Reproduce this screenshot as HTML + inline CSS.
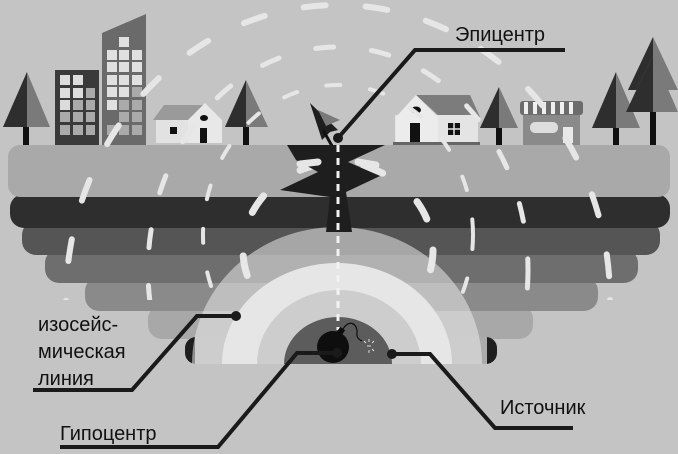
<!DOCTYPE html>
<html><head><meta charset="utf-8"><style>
html,body{margin:0;padding:0;background:#c4c4c4;width:678px;height:454px;overflow:hidden;}
svg{display:block}
text{font-family:"Liberation Sans",sans-serif;fill:#111;}
</style></head><body>
<svg width="678" height="454" viewBox="0 0 678 454" xmlns="http://www.w3.org/2000/svg">
<rect width="678" height="454" fill="#c4c4c4"/>
<defs><clipPath id="up"><rect x="0" y="0" width="678" height="300"/></clipPath></defs>

<!-- buildings -->
<polygon points="3,127 27,72 50,127" fill="#7a7a7a"/><polygon points="3,127 27,72 27,127" fill="#2e2e2e"/><rect x="23" y="127" width="6" height="18" fill="#111"/>
<rect x="55" y="70" width="44" height="75" fill="#3a3a3a"/>
<g fill="#dcdcdc"><rect x="60" y="75" width="10" height="10"/><rect x="73" y="75" width="10" height="10"/>
<rect x="60" y="88" width="10" height="10"/><rect x="73" y="88" width="10" height="10"/><rect x="86" y="88" width="9" height="10" fill="#aaa"/>
<rect x="60" y="100" width="10" height="10"/><rect x="73" y="100" width="10" height="10" fill="#aaa"/><rect x="86" y="100" width="9" height="10" fill="#aaa"/>
<rect x="60" y="112" width="10" height="10" fill="#aaa"/><rect x="73" y="112" width="10" height="10" fill="#aaa"/><rect x="86" y="112" width="9" height="10" fill="#aaa"/>
<rect x="60" y="125" width="10" height="10" fill="#aaa"/><rect x="73" y="125" width="10" height="10" fill="#aaa"/><rect x="86" y="125" width="9" height="10" fill="#aaa"/></g>
<polygon points="102,33 146,14 146,145 102,145" fill="#6a6a6a"/>
<g fill="#e0e0e0"><rect x="119" y="37" width="10" height="10"/>
<rect x="107" y="50" width="10" height="10"/><rect x="119" y="50" width="10" height="10"/><rect x="132" y="50" width="10" height="10"/>
<rect x="107" y="62" width="10" height="10"/><rect x="119" y="62" width="10" height="10"/><rect x="132" y="62" width="10" height="10"/>
<rect x="107" y="75" width="10" height="10"/><rect x="119" y="75" width="10" height="10"/><rect x="132" y="75" width="10" height="10"/>
<rect x="107" y="87" width="10" height="10"/><rect x="119" y="87" width="10" height="10"/><rect x="132" y="87" width="10" height="10" fill="#aaa"/>
<rect x="107" y="100" width="10" height="10"/><rect x="119" y="100" width="10" height="10" fill="#aaa"/><rect x="132" y="100" width="10" height="10" fill="#aaa"/>
<rect x="119" y="112" width="10" height="10" fill="#aaa"/><rect x="132" y="112" width="10" height="10" fill="#aaa"/>
<rect x="107" y="125" width="10" height="10" fill="#aaa"/><rect x="119" y="125" width="10" height="10" fill="#aaa"/><rect x="132" y="125" width="10" height="10" fill="#aaa"/></g>
<!-- house1 -->
<polygon points="153,120 164,105 205,105 205,120" fill="#9a9a9a"/>
<rect x="156" y="120" width="32" height="23" fill="#e2e2e2"/>
<polygon points="188,120 205,103 222,120 222,143 188,143" fill="#e8e8e8"/>
<rect x="170" y="127" width="7" height="7" fill="#111"/><rect x="200" y="128" width="7" height="15" fill="#111"/><ellipse cx="204" cy="118" rx="4" ry="3" fill="#111"/>
<polygon points="225,127 246,80 268,127" fill="#7a7a7a"/><polygon points="225,127 246,80 246,127" fill="#2e2e2e"/><rect x="243" y="127" width="6" height="18" fill="#111"/>
<!-- house2 -->
<polygon points="416,95 470,95 480,117 440,117" fill="#7c7c7c"/>
<rect x="395" y="115" width="83" height="28" fill="#e4e4e4"/>
<polygon points="396,117 416,95 438,117 438,143 396,143" fill="#ececec"/>
<rect x="410" y="123" width="10" height="20" fill="#111"/><ellipse cx="416" cy="110" rx="5" ry="3.5" fill="#111"/>
<rect x="448" y="123" width="12" height="12" fill="#111"/><path d="M454 123v12M448 129h12" stroke="#e4e4e4" stroke-width="1.5"/>
<rect x="393" y="142" width="87" height="3" fill="#666"/>
<polygon points="480,128 499,87 518,128" fill="#7a7a7a"/><polygon points="480,128 499,87 499,128" fill="#2e2e2e"/><rect x="496" y="128" width="6" height="17" fill="#111"/>
<!-- shop -->
<rect x="523" y="113" width="57" height="32" fill="#8a8a8a"/>
<rect x="520" y="101" width="63" height="14" rx="3" fill="#6c6c6c"/>
<g fill="#efefef"><rect x="524" y="102" width="4" height="12"/><rect x="533" y="102" width="4" height="12"/><rect x="542" y="102" width="4" height="12"/><rect x="551" y="102" width="4" height="12"/><rect x="560" y="102" width="4" height="12"/><rect x="569" y="102" width="4" height="12"/></g>
<rect x="530" y="122" width="28" height="11" rx="5" fill="#ddd"/><rect x="563" y="127" width="10" height="16" fill="#e8e8e8"/>
<polygon points="592,128 616,72 640,128" fill="#7a7a7a"/><polygon points="592,128 616,72 616,128" fill="#2e2e2e"/><rect x="613" y="128" width="6" height="17" fill="#111"/>
<polygon points="628,90 653,37 678,90" fill="#7a7a7a"/><polygon points="628,90 653,37 653,90" fill="#2e2e2e"/>
<polygon points="626,112 653,55 678,112" fill="#7a7a7a"/><polygon points="626,112 653,55 653,112" fill="#2e2e2e"/><rect x="650" y="112" width="6" height="33" fill="#111"/>
<!-- flag -->
<polygon points="310,103 338,130 330,132 322,140" fill="#1e1e1e"/><polygon points="318,110 340,120 326,126" fill="#7a7a7a"/>
<line x1="323" y1="130" x2="332" y2="146" stroke="#111" stroke-width="3"/>

<!-- bands -->
<rect x="148" y="305" width="385" height="34" rx="14" fill="#a8a8a8"/>
<rect x="85" y="277" width="513" height="34" rx="14" fill="#8a8a8a"/>
<rect x="45" y="249" width="593" height="34" rx="14" fill="#6e6e6e"/>
<rect x="22" y="221" width="638" height="34" rx="14" fill="#555"/>
<rect x="10" y="194" width="660" height="34" rx="14" fill="#2e2e2e"/>
<rect x="8" y="145" width="662" height="52" rx="12" fill="#a9a9a9"/>
<rect x="185" y="337" width="312" height="27" rx="11" fill="#1e1e1e"/>
<rect x="195" y="337" width="292" height="27" fill="#ababab"/>

<!-- dashed waves -->
<g clip-path="url(#up)" fill="none" stroke="#e6e6e6" stroke-linecap="round">
<ellipse cx="338" cy="300" rx="272" ry="295" stroke-width="6" stroke-dasharray="22 40"/>
<ellipse cx="338" cy="270" rx="190" ry="223" stroke-width="5" stroke-dasharray="18 38"/>
<ellipse cx="338" cy="235" rx="135" ry="150" stroke-width="4" stroke-dasharray="14 30"/>
<ellipse cx="338" cy="250" rx="95" ry="87" stroke-width="7" stroke-dasharray="20 45"/>
</g>

<!-- arches -->
<path d="M192,364 A145,137 0 0 1 482,364 Z" fill="#eaeaea" fill-opacity="0.55"/>
<path d="M222,364 A115,101 0 0 1 452,364 Z" fill="#e6e6e6"/>
<path d="M257,364 A82,74 0 0 1 421,364 Z" fill="#cdcdcd"/>
<path d="M284,364 A54,47 0 0 1 392,364 Z" fill="#5c5c5c"/>

<!-- crack -->
<polygon points="287,145 385,145 348,162 380,176 346,192 352,232 326,232 330,197 280,190 318,172 296,160" fill="#1e1e1e"/>
<g stroke="#e6e6e6" stroke-width="7" stroke-linecap="round"><line x1="300" y1="164" x2="318" y2="162"/><line x1="358" y1="162" x2="376" y2="165"/></g>
<line x1="338" y1="145" x2="338" y2="330" stroke="#f2f2f2" stroke-width="3" stroke-dasharray="7 6"/>

<!-- bomb -->
<circle cx="333" cy="347" r="16" fill="#0e0e0e"/>
<rect x="338" y="328" width="6" height="6" fill="#0e0e0e" transform="rotate(35 341 331)"/>
<path d="M343,329 C350,318 358,325 357,333 C356,338 360,340 362,341" stroke="#111" stroke-width="1.3" fill="none"/>
<g stroke="#ddd" stroke-width="1"><path d="M367,346 l4,0 M369,342 l0,-3 M372,343 l2,-2 M372,349 l2,2 M366,343 l-2,-2 M369,350 l0,3"/></g>

<!-- callout lines -->
<g stroke="#1a1a1a" stroke-width="4" fill="none">
<polyline points="338,138 415,50 565,50"/>
<polyline points="236,316 197,316 132,390 33,390"/>
<polyline points="337,353 297,353 218,447 60,447"/>
<polyline points="392,354 430,354 495,428 573,428"/>
</g>
<g fill="#1a1a1a"><circle cx="338" cy="138" r="5"/><circle cx="236" cy="316" r="5"/><circle cx="337" cy="353" r="5"/><circle cx="392" cy="354" r="5"/></g>

<text x="455" y="41" font-size="20">Эпицентр</text>
<text x="38" y="331" font-size="20">изосейс-</text>
<text x="38" y="358" font-size="20">мическая</text>
<text x="38" y="385" font-size="20">линия</text>
<text x="60" y="440" font-size="20">Гипоцентр</text>
<text x="500" y="414" font-size="20">Источник</text>
</svg>
</body></html>
